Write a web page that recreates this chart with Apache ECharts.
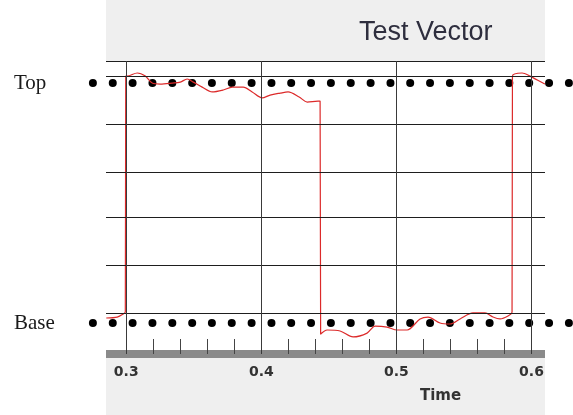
<!DOCTYPE html>
<html>
<head>
<meta charset="utf-8">
<script src="https://cdn.jsdelivr.net/npm/echarts@6/dist/echarts.min.js"></script>
<style>html,body{margin:0;padding:0;background:#fff}#c{width:573px;height:415px}</style>
</head>
<body>
<div id="c"></div>
<script>
// ---- data ----
const titleText = 'Test Vector';
const xAxisName = 'Time';
const timeTicks = [0.3, 0.4, 0.5, 0.6];
const levelValues = [0, 1];
const levelNames = ['Base', 'Top'];
const gridLevels = [0.042, 0.239, 0.437, 0.634, 0.832, 1.029, 1.09];
const dotTimes = [0.2753, 0.2900, 0.3047, 0.3194, 0.3341, 0.3488, 0.3634, 0.3781, 0.3928,
  0.4075, 0.4221, 0.4368, 0.4515, 0.4662, 0.4809, 0.4956, 0.5102, 0.5249, 0.5396,
  0.5543, 0.5690, 0.5836, 0.5983, 0.6130, 0.6277];
const signalTime = [0.2852, 0.2933, 0.2978, 0.2993, 0.2996, 0.3007, 0.3081, 0.3141, 0.3192,
  0.3252, 0.3340, 0.3400, 0.3451, 0.3496, 0.3562, 0.3636, 0.3718, 0.3784, 0.3866, 0.3932,
  0.4006, 0.4065, 0.4139, 0.4198, 0.4280, 0.4339, 0.4420, 0.4435, 0.4439, 0.4487, 0.4583,
  0.4679, 0.4783, 0.4842, 0.4931, 0.5005, 0.5079, 0.5175, 0.5234, 0.5323, 0.5397, 0.5471,
  0.5567, 0.5656, 0.5715, 0.5767, 0.5826, 0.5856, 0.5859, 0.5930, 0.5989, 0.6085, 0.6100];
const signalValue = [0.021, 0.025, 0.038, 0.046, 1.029, 1.029, 1.042, 1.029, 1.000,
  0.996, 1.000, 1.004, 1.017, 1.004, 0.983, 0.963, 0.971, 0.983, 0.983, 0.963,
  0.938, 0.950, 0.958, 0.963, 0.942, 0.921, 0.925, 0.925, -0.046, -0.029, -0.033,
  -0.058, -0.042, -0.013, -0.017, -0.029, -0.029, 0.017, 0.025, 0.000, -0.004, 0.017,
  0.042, 0.042, 0.025, 0.017, 0.029, 0.046, 1.029, 1.042, 1.029, 1.000, 0.996];
const xMin = 0.285, xMax = 0.61;
const yMin = -0.129, yMax = 1.092;

// ---- chart ----
const chart = echarts.init(document.getElementById('c'), null, {renderer: 'canvas'});
const signal = signalTime.map((t, i) => [t, signalValue[i]]);
const topDots = dotTimes.map(t => [t, levelValues[1]]);
const baseDots = dotTimes.map(t => [t, levelValues[0]]);

const gridLineData = gridLevels.map(v => ({yAxis: v, lineStyle: {color: '#1e1e1e'}}))
  .concat(timeTicks.map(t => ({xAxis: t, lineStyle: {color: '#3a3a3a'}})));

chart.setOption({
  animation: false,
  textStyle: {fontFamily: 'Liberation Sans'},
  graphic: [
    {type: 'rect', z: -10, shape: {x: 106, y: 0, width: 439, height: 415}, style: {fill: '#efefef'}, silent: true}
  ],
  title: {
    text: titleText, left: 359, top: 19, padding: 0,
    textStyle: {fontFamily: 'Liberation Sans', fontSize: 27, fontWeight: 'normal', color: '#2e2e3e'}
  },
  grid: {left: 106, right: 28, top: 61, bottom: 61, show: true, backgroundColor: '#ffffff', borderWidth: 0, containLabel: false},
  xAxis: [{
    type: 'value', min: xMin, max: xMax, splitNumber: 3,
    name: xAxisName, nameLocation: 'middle', nameGap: 35,
    nameTextStyle: {fontFamily: 'DejaVu Sans', fontWeight: 'bold', fontSize: 15, color: '#333', padding: [0, 0, 0, 230]},
    axisLine: {show: true, onZero: false, lineStyle: {color: '#8a8a8a', width: 8, cap: 'butt'}},
    axisTick: {show: false, inside: true},
    minorTick: {show: true, splitNumber: 5, length: 15, lineStyle: {color: '#444', width: 1}},
    splitLine: {show: false},
    minorSplitLine: {show: false},
    axisLabel: {
      customValues: timeTicks, margin: 11,
      fontFamily: 'DejaVu Sans', fontWeight: 'bold', fontSize: 14, color: '#333',
      formatter: v => String(v)
    }
  }, {
    type: 'value', min: xMin, max: xMax, position: 'bottom',
    axisLine: {show: false},
    axisTick: {show: true, customValues: timeTicks, length: 10, inside: false, lineStyle: {color: '#3a3a3a', width: 1}},
    axisLabel: {show: false},
    splitLine: {show: false}
  }],
  yAxis: {
    type: 'value', min: yMin, max: yMax,
    axisLine: {show: false},
    axisTick: {show: false},
    splitLine: {show: false},
    axisLabel: {
      customValues: levelValues, margin: 92, align: 'left',
      fontFamily: 'Liberation Serif', fontSize: 21, color: '#1a1a1a',
      formatter: v => levelNames[levelValues.indexOf(v)]
    }
  },
  series: [{
    type: 'line', name: 'grid', data: [], silent: true, z: 1,
    markLine: {
      silent: true, symbol: ['none', 'none'], label: {show: false},
      lineStyle: {type: 'solid', width: 1}, emphasis: {disabled: true},
      animation: false, data: gridLineData
    }
  }, {
    type: 'scatter', name: 'Top', data: topDots, symbol: 'circle', symbolSize: 8,
    itemStyle: {color: '#000', opacity: 1}, clip: false, silent: true, z: 3
  }, {
    type: 'scatter', name: 'Base', data: baseDots, symbol: 'circle', symbolSize: 8,
    itemStyle: {color: '#000', opacity: 1}, clip: false, silent: true, z: 3
  }, {
    type: 'line', name: 'Test Vector', data: signal, showSymbol: false, smooth: 0.3,
    clip: false, silent: true, z: 4,
    lineStyle: {color: '#dc2a2a', width: 1.2}
  }]
});
</script>
</body>
</html>
